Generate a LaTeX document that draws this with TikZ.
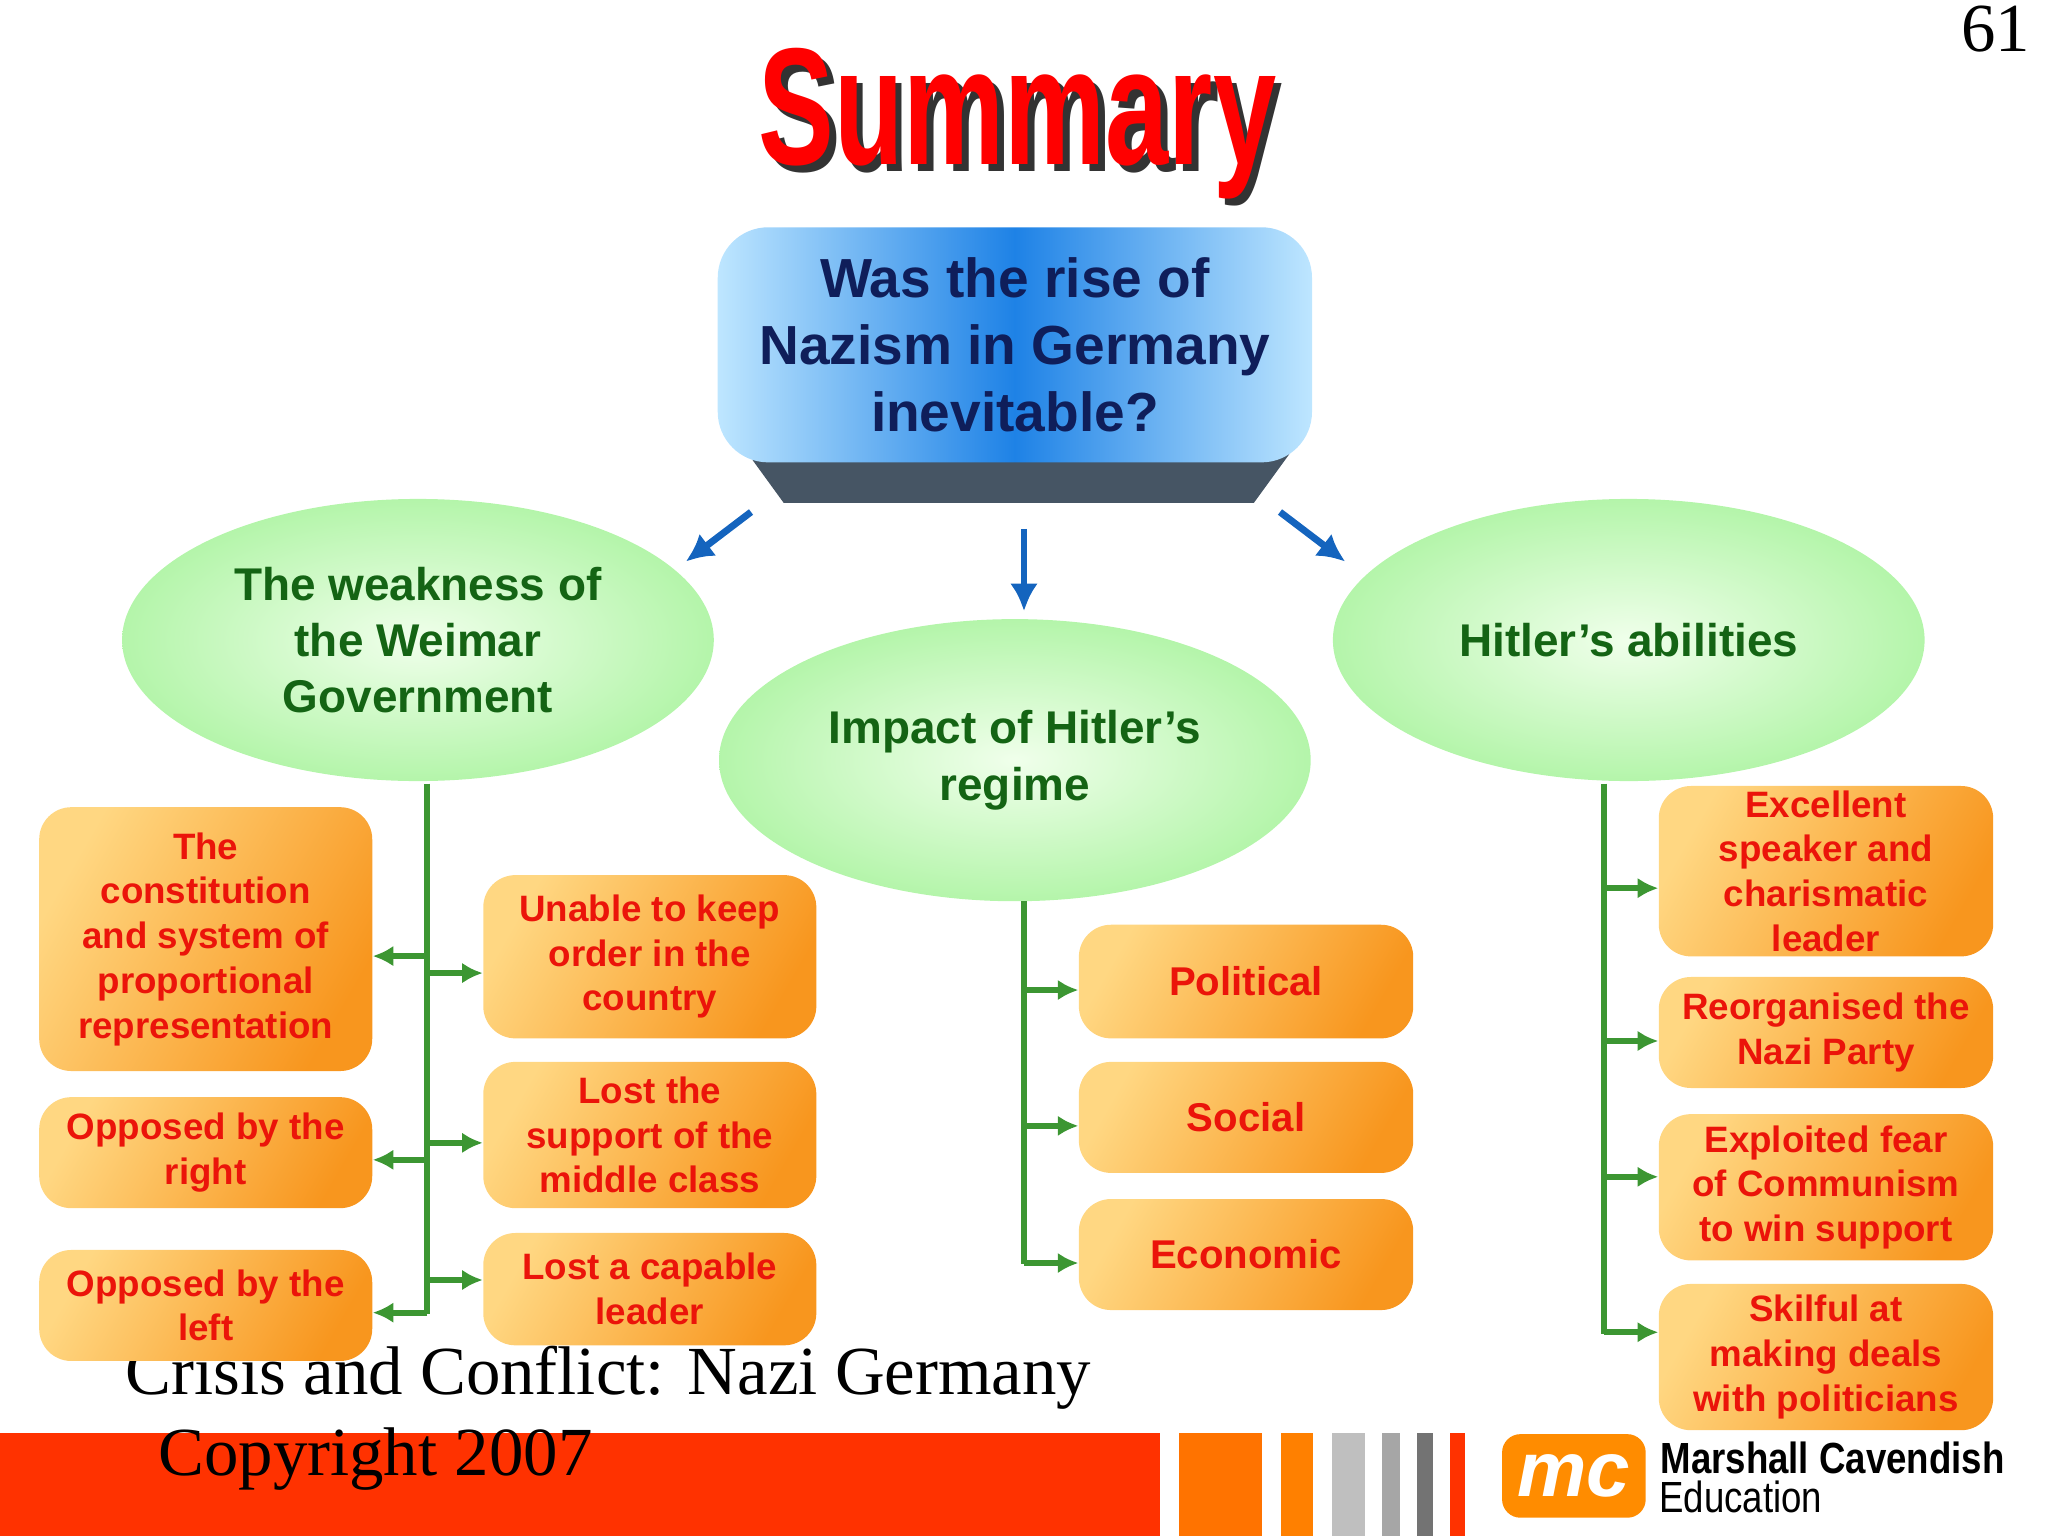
\documentclass[tikz,border=0pt]{standalone}
\usepackage{fontspec}
\setmainfont{Liberation Serif}
\newfontfamily\lab{Liberation Sans}
\usetikzlibrary{arrows.meta,shadings,shapes.geometric}
\definecolor{ored}{RGB}{235,20,10}
\definecolor{dgreen}{RGB}{20,100,20}
\definecolor{navy}{RGB}{15,30,90}
\definecolor{tgreen}{RGB}{60,150,50}
\definecolor{barred}{RGB}{255,50,0}
\definecolor{olight}{RGB}{255,215,130}
\definecolor{odark}{RGB}{248,150,30}
\definecolor{ein}{RGB}{240,255,235}
\definecolor{eout}{RGB}{180,245,170}
\definecolor{bblue}{RGB}{20,100,190}
\definecolor{slate}{RGB}{70,85,100}
\definecolor{blight}{RGB}{190,230,255}
\definecolor{bmid}{RGB}{30,130,230}
\tikzset{
 obox/.style={rounded corners=14pt,shading=axis,left color=olight,right color=odark,shading angle=60,align=center,font=\lab\bfseries\fontsize{16}{19.5}\selectfont,text=ored,inner sep=2pt},
 ell/.style={ellipse,inner sep=0pt,inner color=ein,outer color=eout,align=center,font=\lab\bfseries\fontsize{20}{24.5}\selectfont,text=dgreen},
 garr/.style={draw=tgreen,line width=2.5pt,-{Latex[length=9pt,width=9pt]}},
 gline/.style={draw=tgreen,line width=2.5pt},
 barr/.style={draw=bblue,line width=3pt,-{Latex[length=12pt,width=12pt]}}
}
\newcommand\ob[6]{\node[obox,minimum width={(#4-#2)*0.02cm},minimum height={(#5-#3)*0.02cm}] (#1) at ({(#2+#4)/2},{(#3+#5)/2}) {#6};}
\begin{document}
\begin{tikzpicture}[x=0.02cm,y=-0.02cm]
\useasboundingbox (0,0) rectangle (1568,1176);
% footer text
\node[anchor=west,font=\fontsize{30}{32}\selectfont] (ft1) at (90,1055) {Crisis and Conflict: Nazi Germany};
\fill[barred] (0,1097) rectangle (888,1176);
\fill[orange!90!red] (903,1097) rectangle (966,1176);
\fill[orange] (981,1097) rectangle (1005,1176);
\fill[gray!50] (1020,1097) rectangle (1045,1176);
\fill[gray!70] (1058,1097) rectangle (1072,1176);
\fill[gray!90!black] (1085,1097) rectangle (1097,1176);
\fill[barred] (1110,1097) rectangle (1122,1176);
\node[anchor=west,font=\fontsize{30}{32}\selectfont] (ft2) at (115,1117) {Copyright 2007};
\node[fill=orange!90!yellow,rounded corners=8pt,minimum width=2.2cm,minimum height=1.28cm,text=white,font=\lab\bfseries\itshape\fontsize{34}{34}\selectfont] (logo) at (1205,1130) {mc};
\node[anchor=west,font=\lab\bfseries\fontsize{19}{20}\selectfont,inner sep=0] (mc1) at (1271,1116) {\scalebox{0.84}[1]{Marshall Cavendish}};
\node[anchor=west,font=\lab\fontsize{19}{20}\selectfont,inner sep=0] (mc2) at (1270,1146) {\scalebox{0.84}[1]{Education}};
% page number
\node[font=\fontsize{30}{32}\selectfont] (pn) at (1528,22) {61};
% title
\node[font=\lab\bfseries\fontsize{66}{70}\selectfont,text=black!80] (tsh) at (784,100) {\scalebox{0.75}[1.1]{Summary}};
\node[font=\lab\bfseries\fontsize{66}{70}\selectfont,text=red] (title) at (779,95) {\scalebox{0.75}[1.1]{Summary}};
% top box
\fill[slate] (560,330) -- (1000,330) -- (960,385) -- (600,385) -- cycle;
\node[rounded corners=22pt,shading=axis,left color=blight,right color=blight,middle color=bmid,minimum width={455*0.02cm},minimum height={180*0.02cm},align=center,text=navy,font=\lab\bfseries\fontsize{24}{29}\selectfont] (q) at (777,264) {Was the rise of\\Nazism in Germany\\inevitable?};
% ellipses
\node[ell,minimum width={453*0.02cm},minimum height={216*0.02cm}] (e1) at (320,490) {The weakness of\\the Weimar\\Government};
\node[ell,minimum width={453*0.02cm},minimum height={216*0.02cm}] (e2) at (777,582) {Impact of Hitler’s\\regime};
\node[ell,minimum width={453*0.02cm},minimum height={216*0.02cm}] (e3) at (1247,490) {Hitler’s abilities};
\coordinate (a1s) at (575,392); \coordinate (a1e) at (525,430);
\coordinate (a2s) at (784,405); \coordinate (a2e) at (784,468);
\coordinate (a3s) at (980,392); \coordinate (a3e) at (1030,430);
\draw[barr] (a1s) -- (a1e); \draw[barr] (a2s) -- (a2e); \draw[barr] (a3s) -- (a3e);
% boxes
\ob{l1}{30}{618}{285}{820}{The\\constitution\\and system of\\proportional\\representation}
\ob{l2}{30}{840}{285}{925}{Opposed by the\\right}
\ob{l3}{30}{957}{285}{1042}{Opposed by the\\left}
\ob{m1}{370}{670}{625}{795}{Unable to keep\\order in the\\country}
\ob{m2}{370}{813}{625}{925}{Lost the\\support of the\\middle class}
\ob{m3}{370}{944}{625}{1030}{Lost a capable\\leader}
\ob{c1}{826}{708}{1082}{795}{\fontsize{17.5}{21}\selectfont Political}
\ob{c2}{826}{813}{1082}{898}{\fontsize{17.5}{21}\selectfont Social}
\ob{c3}{826}{918}{1082}{1003}{\fontsize{17.5}{21}\selectfont Economic}
\ob{r1}{1270}{604}{1526}{730}{Excellent\\speaker and\\charismatic\\leader}
\ob{r2}{1270}{748}{1526}{833}{Reorganised the\\Nazi Party}
\ob{r3}{1270}{853}{1526}{965}{Exploited fear\\of Communism\\to win support}
\ob{r4}{1270}{983}{1526}{1095}{Skilful at\\making deals\\with politicians}
% trees
\coordinate (t1a) at (327,600); \coordinate (t1b) at (327,1006);
\draw[gline] (t1a) -- (t1b);
\draw[garr] (327,732) -- (l1.east|-0,732);
\draw[garr] (327,888) -- (l2.east|-0,888);
\draw[garr] (327,1005) -- (l3.east|-0,1005);
\draw[garr] (327,745) -- (m1.west|-0,745);
\draw[garr] (327,875) -- (m2.west|-0,875);
\draw[garr] (327,980) -- (m3.west|-0,980);
\coordinate (t2a) at (784,690); \coordinate (t2b) at (784,968);
\draw[gline] (t2a) -- (t2b);
\draw[garr] (784,758) -- (c1.west|-0,758);
\draw[garr] (784,862) -- (c2.west|-0,862);
\draw[garr] (784,967) -- (c3.west|-0,967);
\coordinate (t3a) at (1228,600); \coordinate (t3b) at (1228,1021);
\draw[gline] (t3a) -- (t3b);
\draw[garr] (1228,680) -- (r1.west|-0,680);
\draw[garr] (1228,797) -- (r2.west|-0,797);
\draw[garr] (1228,901) -- (r3.west|-0,901);
\draw[garr] (1228,1020) -- (r4.west|-0,1020);
\end{tikzpicture}
\end{document}
